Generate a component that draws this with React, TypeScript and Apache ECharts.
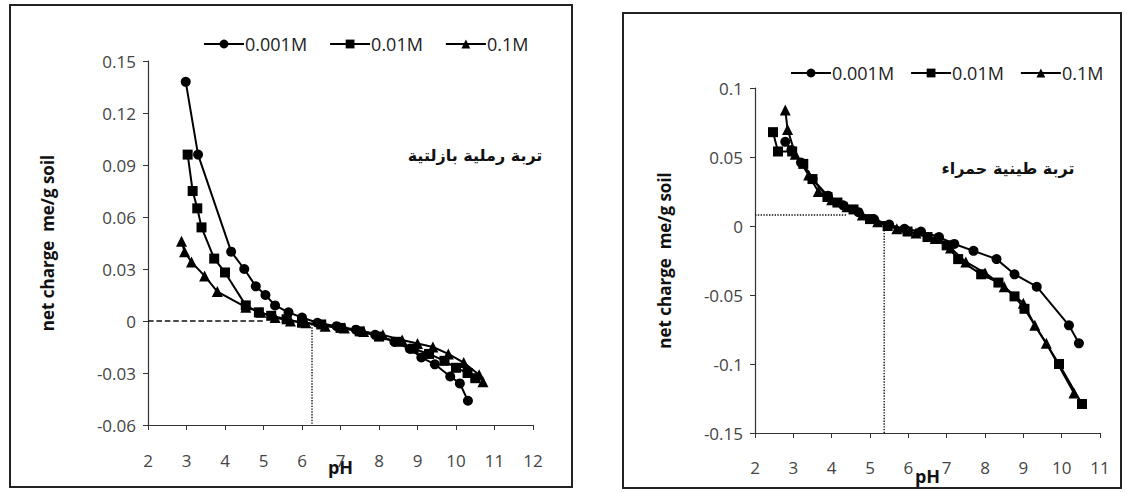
import React, { useEffect, useRef } from "react";
import * as echarts from "echarts";

// ---------- Data ----------
const seriesNames = ["0.001M", "0.01M", "0.1M"];
const symbols = ["circle", "rect", "triangle"];

// Left chart: basaltic sandy soil
const leftPH_001 = [2.98, 3.3, 4.16, 4.5, 4.8, 5.05, 5.3, 5.65, 6.0, 6.4, 6.9, 7.4, 7.9, 8.4, 8.8, 9.1, 9.45, 9.85, 10.1, 10.31];
const leftV_001 = [0.138, 0.096, 0.04, 0.03, 0.02, 0.015, 0.009, 0.005, 0.002, -0.001, -0.003, -0.005, -0.008, -0.012, -0.016, -0.021, -0.025, -0.032, -0.036, -0.046];
const leftPH_01 = [3.03, 3.16, 3.28, 3.39, 3.72, 4.0, 4.54, 4.88, 5.2, 5.6, 6.0, 6.5, 7.0, 7.5, 8.0, 8.5, 8.9, 9.3, 9.7, 10.0, 10.3, 10.5];
const leftV_01 = [0.096, 0.075, 0.065, 0.054, 0.036, 0.028, 0.009, 0.005, 0.003, 0.001, -0.001, -0.002, -0.004, -0.006, -0.009, -0.012, -0.016, -0.019, -0.023, -0.027, -0.03, -0.033];
const leftPH_1 = [2.87, 2.95, 3.13, 3.47, 3.8, 4.54, 4.93, 5.3, 5.7, 6.1, 6.6, 7.1, 7.6, 8.1, 8.6, 9.0, 9.4, 9.8, 10.2, 10.6, 10.7];
const leftV_1 = [0.046, 0.04, 0.034, 0.026, 0.017, 0.008, 0.005, 0.002, 0.0, -0.001, -0.003, -0.004, -0.006, -0.008, -0.011, -0.013, -0.015, -0.019, -0.024, -0.031, -0.035];
const leftRefH = [[2, 0], [5.0, 0]];
const leftRefV = [[6.26, -0.002], [6.26, -0.06]];

// Right chart: red clay soil
const rightPH_001 = [2.79, 2.95, 3.2, 3.5, 3.9, 4.3, 4.7, 5.1, 5.5, 5.9, 6.33, 6.8, 7.2, 7.7, 8.3, 8.77, 9.35, 10.19, 10.45];
const rightV_001 = [0.061, 0.055, 0.046, 0.034, 0.022, 0.015, 0.01, 0.005, 0.001, -0.002, -0.004, -0.008, -0.013, -0.018, -0.024, -0.035, -0.044, -0.072, -0.085];
const rightPH_01 = [2.47, 2.6, 2.97, 3.26, 3.5, 3.89, 4.15, 4.57, 5.0, 5.46, 5.98, 6.5, 7.0, 7.3, 7.9, 8.35, 8.77, 9.03, 9.93, 10.53];
const rightV_01 = [0.068, 0.054, 0.054, 0.045, 0.034, 0.021, 0.017, 0.012, 0.005, 0.0, -0.004, -0.008, -0.014, -0.024, -0.035, -0.041, -0.051, -0.06, -0.1, -0.129];
const rightPH_1 = [2.79, 2.85, 3.05, 3.4, 3.65, 4.0, 4.4, 4.8, 5.2, 5.7, 6.2, 6.7, 7.1, 7.5, 8.0, 8.5, 9.0, 9.3, 9.6, 10.32];
const rightV_1 = [0.084, 0.07, 0.052, 0.037, 0.025, 0.019, 0.014, 0.008, 0.003, -0.002, -0.005, -0.009, -0.016, -0.026, -0.034, -0.044, -0.056, -0.072, -0.085, -0.121];
const rightRefH = [[2, 0.008], [4.4, 0.008]];
const rightRefV = [[5.37, -0.003], [5.37, -0.15]];

const leftTitle = "تربة رملية بازلتية";
const rightTitle = "تربة طينية حمراء";
const yName = "net charge  me/g soil";
const xName = "pH";

// ---------- Helpers ----------
const zip = (xs: number[], ys: number[]) => xs.map((x, i) => [x, ys[i]]);
const FONT = "Open Sans";
const fmt = (v: number) => String(parseFloat(v.toFixed(2)));

function makeXAxis(gridIndex: number, max: number, gap: number, margin: number) {
  return {
    type: "value",
    gridIndex,
    min: 2,
    max,
    interval: 1,
    name: xName,
    nameLocation: "middle",
    nameGap: gap,
    nameMoveOverlap: false,
    nameTextStyle: { fontFamily: FONT, fontWeight: "bold", fontSize: 18, color: "#111" },
    axisLine: { onZero: false, lineStyle: { color: "#333", width: 1.2 } },
    axisTick: { show: true, length: 5, lineStyle: { color: "#333" } },
    axisLabel: { margin, fontFamily: FONT, fontSize: 17, color: "#444", formatter: fmt },
    splitLine: { show: false },
  };
}

function makeYAxis(gridIndex: number, min: number, max: number, interval: number, gap: number) {
  return {
    type: "value",
    gridIndex,
    min,
    max,
    interval,
    name: yName,
    nameLocation: "middle",
    nameRotate: 90,
    nameGap: gap,
    nameMoveOverlap: false,
    nameTextStyle: { fontFamily: FONT, fontWeight: "bold", fontSize: 17, color: "#111" },
    axisLine: { show: true, onZero: false, lineStyle: { color: "#333", width: 1.2 } },
    axisTick: { show: true, length: 5, lineStyle: { color: "#333" } },
    axisLabel: { margin: 12, fontFamily: FONT, fontSize: 17, color: "#444", formatter: fmt },
    splitLine: { show: false },
  };
}

function dataSeries(name: string, symbol: string, data: number[][], idx: number) {
  return {
    type: "line",
    name,
    xAxisIndex: idx,
    yAxisIndex: idx,
    data,
    symbol,
    symbolSize: symbol === "triangle" ? 11 : 10,
    lineStyle: { color: "#000", width: 2 },
    itemStyle: { color: "#000" },
    z: 3,
  };
}

function refSeries(data: number[][], idx: number, type: string) {
  return {
    type: "line",
    name: "ref",
    xAxisIndex: idx,
    yAxisIndex: idx,
    data,
    symbol: "none",
    silent: true,
    lineStyle: { color: "#111", width: 1.4, type },
    z: 2,
  };
}

function legend(left: number, top: number, gap: number) {
  return {
    left,
    top,
    data: seriesNames,
    itemWidth: 40,
    itemHeight: 11,
    itemGap: gap,
    textStyle: { fontFamily: FONT, fontSize: 18, color: "#222", padding: [0, 0, 0, -4] },
  };
}

export default function App() {
  const ref = useRef<HTMLDivElement>(null);
  useEffect(() => {
    if (!ref.current) return;
    const chart = echarts.init(ref.current, undefined, { renderer: "svg" });
    const leftData = [zip(leftPH_001, leftV_001), zip(leftPH_01, leftV_01), zip(leftPH_1, leftV_1)];
    const rightData = [zip(rightPH_001, rightV_001), zip(rightPH_01, rightV_01), zip(rightPH_1, rightV_1)];
    chart.setOption({
      animation: false,
      backgroundColor: "#fff",
      grid: [
        { left: 148, right: 1127 - 533, top: 61, bottom: 493 - 425, containLabel: false, outerBoundsMode: "none" },
        { left: 755, right: 1127 - 1100, top: 88, bottom: 493 - 433, containLabel: false, outerBoundsMode: "none" },
      ],
      xAxis: [makeXAxis(0, 12, 33, 27), makeXAxis(1, 11, 34, 26)],
      yAxis: [makeYAxis(0, -0.06, 0.15, 0.03, 92), makeYAxis(1, -0.15, 0.1, 0.05, 82)],
      legend: [legend(198, 30, 22), legend(785, 59, 16)],
      series: [
        refSeries(leftRefH, 0, "dashed"),
        refSeries(leftRefV, 0, "dotted"),
        refSeries(rightRefH, 1, "dotted"),
        refSeries(rightRefV, 1, "dotted"),
        ...seriesNames.map((n, i) => dataSeries(n, symbols[i], leftData[i], 0)),
        ...seriesNames.map((n, i) => dataSeries(n, symbols[i], rightData[i], 1)),
      ],
      graphic: [
        { type: "rect", shape: { x: 10, y: 5, width: 562, height: 482 }, style: { fill: "none", stroke: "#222", lineWidth: 2 } },
        { type: "rect", shape: { x: 623, y: 13, width: 498, height: 475 }, style: { fill: "none", stroke: "#222", lineWidth: 2 } },
        { type: "text", x: 475, y: 155, style: { text: leftTitle, font: 'bold 16px "DejaVu Sans"', align: "center", verticalAlign: "middle", fill: "#111" } },
        { type: "text", x: 1008, y: 168, style: { text: rightTitle, font: 'bold 16px "DejaVu Sans"', align: "center", verticalAlign: "middle", fill: "#111" } },
      ],
    });
    return () => chart.dispose();
  }, []);
  return <div ref={ref} style={{ position: "absolute", left: 0, top: 0, width: 1127, height: 493 }} />;
}
